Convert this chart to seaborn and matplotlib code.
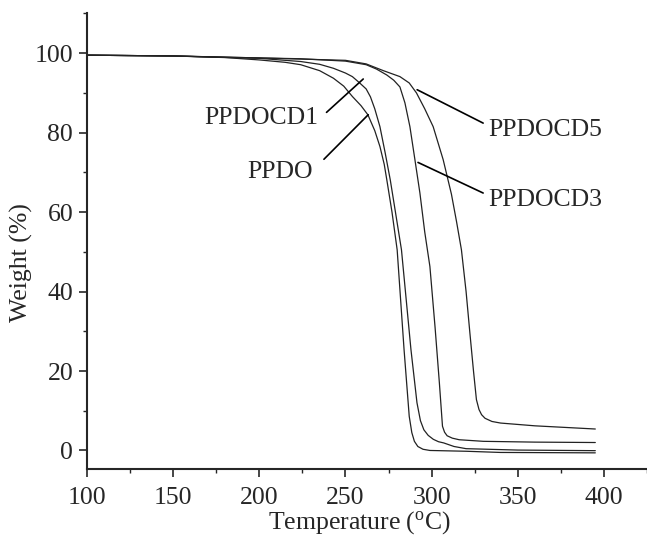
import pandas as pd
import matplotlib
matplotlib.use("Agg")
import matplotlib.pyplot as plt
from matplotlib.ticker import MultipleLocator
import seaborn as sns

# TGA curves (temperature in C, weight in %)
ppdo_t = [100, 150, 180, 200, 215, 224, 235, 243, 249, 254, 259, 263, 267, 270, 272.5, 274, 277, 280,
          284, 287, 288.5, 290, 292, 295, 299, 320, 340, 395]
ppdo_w = [99.5, 99.3, 98.9, 98.3, 97.7, 97.1, 95.6, 93.7, 91.7, 89.1, 86.8, 84.5, 80.5, 76.5, 72.0, 68.1, 60.0, 50.5,
          25.4, 8.6, 4.5, 2.3, 1.0, 0.3, 0.0, -0.2, -0.5, -0.6]

cd1_t = [100, 150, 200, 224, 235, 243, 250, 254, 258, 262, 264.5, 267, 270, 273, 276, 279, 282.5, 288,
         291.5, 293.5, 295.5, 298, 301, 304, 307, 313, 320, 350, 395]
cd1_w = [99.5, 99.3, 98.7, 97.9, 97.2, 96.2, 95.0, 94.1, 92.6, 91.0, 89.0, 86.0, 81.5, 75.0, 68.1, 60.0, 50.5, 25.4,
         12.0, 7.5, 5.2, 3.8, 2.8, 2.2, 1.9, 1.0, 0.45, 0.1, -0.05]

cd3_t = [100, 150, 200, 224, 250, 262, 268, 274, 278, 281.6, 284.5, 287.4, 290.3, 293.2, 296, 299, 302,
         304.5, 306.3, 307.5, 309, 312, 316, 330, 360, 395]
cd3_w = [99.5, 99.3, 98.8, 98.6, 98.0, 97.1, 96.0, 94.5, 93.2, 91.5, 87.5, 81.5, 73.2, 64.8, 55.0, 46.3, 31.0,
         17.0, 6.1, 4.6, 3.7, 3.1, 2.7, 2.3, 2.1, 2.0]

cd5_t = [100, 150, 200, 250, 262, 272, 281.6, 287, 291.2, 296, 300.9, 306.7, 311.5, 314.5, 317.3, 320, 322.2,
         324.3, 326, 327.5, 329, 331, 335, 340, 360, 395]
cd5_w = [99.5, 99.3, 98.8, 98.2, 97.3, 95.6, 94.1, 92.5, 90.0, 86.0, 81.5, 73.2, 64.5, 57.5, 50.5, 40.0, 29.6,
         20.0, 12.8, 10.3, 9.0, 8.1, 7.3, 6.9, 6.2, 5.4]

names = ["PPDO", "PPDOCD1", "PPDOCD3", "PPDOCD5"]
temps = [ppdo_t, cd1_t, cd3_t, cd5_t]
weights = [ppdo_w, cd1_w, cd3_w, cd5_w]

# label text anchor (T, W), leader start, leader end
labels = {
    "PPDOCD1": ((234, 83.8), (239, 85.1), (260.3, 93.5)),
    "PPDO": ((231, 70.0), (237.5, 73.3), (263.2, 84.5)),
    "PPDOCD5": ((332.8, 80.6), (291.6, 90.8), (329.9, 82.4)),
    "PPDOCD3": ((332.8, 63.1), (292.1, 72.5), (329.9, 64.8)),
}

frames = []
for n, t, w in zip(names, temps, weights):
    frames.append(pd.DataFrame({"Temperature": t, "Weight": w, "Sample": n}))
df = pd.concat(frames, ignore_index=True)

sns.set_style("ticks")
plt.rcParams["font.family"] = ["Liberation Serif", "DejaVu Serif"]
plt.rcParams["mathtext.fontset"] = "custom"
plt.rcParams["mathtext.rm"] = "Liberation Serif"

fig = plt.figure(figsize=(6.47, 5.38), dpi=100)
ax = fig.add_axes([0.1345, 0.128, 0.8655, 0.847])

sns.lineplot(data=df, x="Temperature", y="Weight", hue="Sample", units="Sample",
             estimator=None, palette=["#222222"] * 4, linewidth=0.9, legend=False, ax=ax)

for name, (txt, p0, p1) in labels.items():
    ha = "right" if p0[0] > txt[0] else "left"
    ax.text(txt[0], txt[1], name, ha=ha, va="center", fontsize=18.5)
    ax.plot([p0[0], p1[0]], [p0[1], p1[1]], color="black", lw=1.2)

ax.set_xlim(100, 425)
ax.set_ylim(-4.7, 110)
ax.xaxis.set_major_locator(MultipleLocator(50))
ax.xaxis.set_minor_locator(MultipleLocator(25))
ax.set_yticks([0, 20, 40, 60, 80, 100])
ax.yaxis.set_minor_locator(MultipleLocator(10))

ax.tick_params(which="major", length=6, width=1.2, labelsize=18.5, direction="out")
ax.tick_params(which="minor", length=3, width=1.0, direction="out")
ax.tick_params(axis="x", pad=7)
ax.tick_params(axis="y", pad=4)
for s in ["left", "bottom"]:
    ax.spines[s].set_linewidth(1.5)
sns.despine(ax=ax)

ax.set_xlabel("Temperature ($\\mathregular{^o}$C)", fontsize=18.5)
ax.set_ylabel("Weight (%)", fontsize=18.5)
ax.xaxis.set_label_coords(0.486, -0.088)
ax.yaxis.set_label_coords(-0.096, 0.454)

fig.savefig("out.png", dpi=100)
